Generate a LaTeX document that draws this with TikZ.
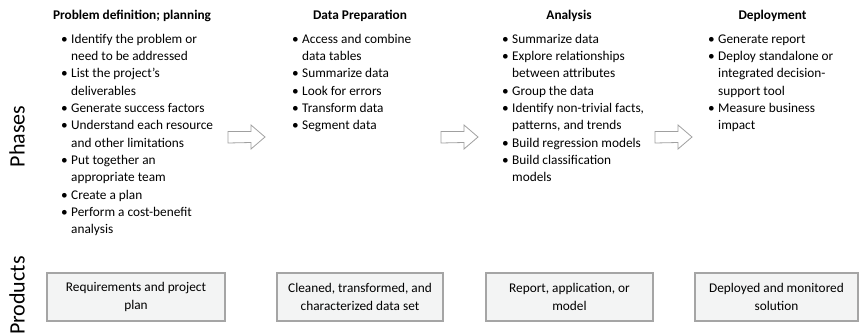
\documentclass[tikz,border=0pt]{standalone}
\usepackage{fontspec}
\setmainfont{Carlito}
\usetikzlibrary{positioning}
\definecolor{boxline}{HTML}{A5A5A5}
\definecolor{boxfill}{HTML}{F3F4F4}
\definecolor{arrowline}{HTML}{A0A0A0}
\newcommand\bodyfont{\fontsize{13.3}{17.3}\selectfont}
\newcommand\itm{\strut\makebox[10pt][l]{\textbullet}}% bullet plus indent
\newcommand\cnt{\strut\makebox[10pt]{}}% continued line
\tikzset{
phasehead/.style = {font=\bodyfont\bfseries, anchor=base, inner sep=0pt},
phaselist/.style = {font=\bodyfont, anchor=north west, inner sep=0pt, align=left},
product/.style = {draw=boxline, fill=boxfill, line width=1.2pt, font=\bodyfont, align=center, minimum height=48pt, inner sep=0pt},
sidelabel/.style = {font=\fontsize{22}{26}\selectfont, rotate=90, inner sep=0pt},
blockarrow/.style = {draw=arrowline, line width=0.8pt, fill=white, line join=miter}
}
\begin{document}
\begin{tikzpicture}[x=1pt, y=-1pt]
\useasboundingbox (0,0) rectangle (859,335);
% side labels
\node[sidelabel, anchor=base] (phases) at (24.5,136.5) {Phases};
\node[sidelabel, anchor=base east] (products) at (24.5,256) {Products};
% phase headings
\node[phasehead] (head1) at (132,19.5) {Problem definition; planning};
\node[phasehead] (head2) at (360,19.5) {Data Preparation};
\node[phasehead] (head3) at (569,19.5) {Analysis};
\node[phasehead] (head4) at (772.5,19.5) {Deployment};
% phase tasks
\node[phaselist] (list1) at (61,31) {\itm Identify the problem or\\ \cnt need to be addressed\\
  \itm List the project’s\\ \cnt deliverables\\ \itm Generate success factors\\
  \itm Understand each resource\\ \cnt and other limitations\\ \itm Put together an\\
  \cnt appropriate team\\ \itm Create a plan\\ \itm Perform a cost-benefit\\ \cnt analysis};
\node[phaselist] (list2) at (292,31) {\itm Access and combine\\ \cnt data tables\\
  \itm Summarize data\\ \itm Look for errors\\ \itm Transform data\\ \itm Segment data};
\node[phaselist] (list3) at (502,31) {\itm Summarize data\\ \itm Explore relationships\\
  \cnt between attributes\\ \itm Group the data\\ \itm Identify non-trivial facts,\\
  \cnt patterns, and trends\\ \itm Build regression models\\ \itm Build classification\\ \cnt models};
\node[phaselist] (list4) at (708,31) {\itm Generate report\\ \itm Deploy standalone or\\
  \cnt integrated decision-\\ \cnt support tool\\ \itm Measure business\\ \cnt impact};
% arrows between phases
\foreach \ax in {228,441,655}
  \draw[blockarrow] (\ax,131.5) -- ++(23,0) -- ++(0,-6.5) -- ++(14,12) -- ++(-14,12)
    -- ++(0,-6.5) -- (\ax,143) -- cycle;
% products
\node[product, minimum width=178pt] (prod1) at (136,297) {Requirements and project\\ plan};
\node[product, minimum width=166pt] (prod2) at (360,297) {Cleaned, transformed, and\\ characterized data set};
\node[product, minimum width=167pt] (prod3) at (569.5,297) {Report, application, or\\ model};
\node[product, minimum width=163pt] (prod4) at (776.5,297) {Deployed and monitored\\ solution};
\end{tikzpicture}
\end{document}
